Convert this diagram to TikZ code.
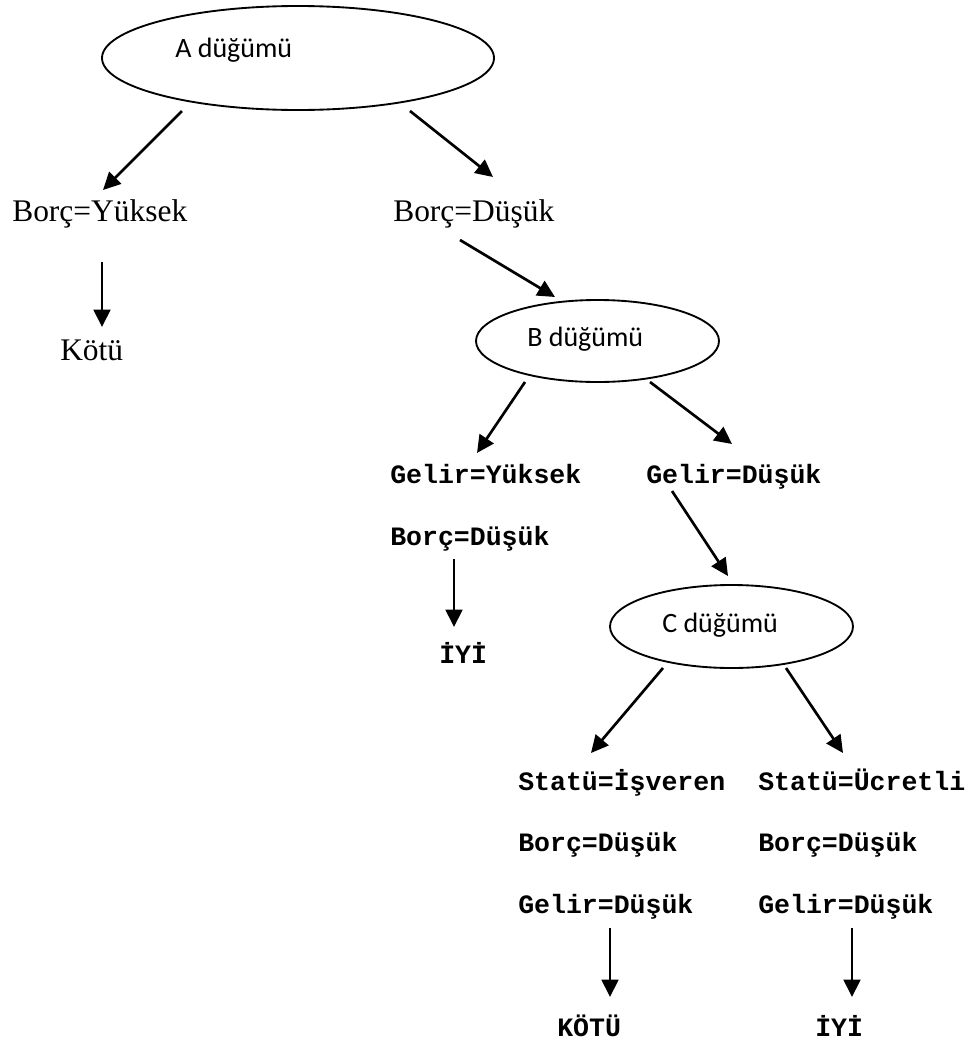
\documentclass[tikz,border=0pt]{standalone}
\usepackage{fontspec}
\setmainfont{Liberation Serif}
\newfontfamily\calfont{Carlito}
\newfontfamily\cmono{Liberation Mono}
\usetikzlibrary{shapes.geometric,arrows.meta,calc}
\newdimen\px \px=0.75pt
\begin{document}
\begin{tikzpicture}[x=0.75pt,y=-0.75pt,
  ell/.style={draw, ellipse, line width=1.4pt, inner sep=0},
  cal/.style={font=\calfont\fontsize{21}{25}\selectfont, inner sep=0, anchor=base west},
  ser/.style={font=\fontsize{23.6}{28}\selectfont, inner sep=0, anchor=base west},
  mono/.style={font=\cmono\bfseries\fontsize{19.9}{24}\selectfont, inner sep=0, anchor=base west},
  arr/.style={-{Triangle[length=13pt,width=12.5pt]}, line width=2pt}]
\useasboundingbox (0,0) rectangle (979,1046);
% nodes
\node[ell, minimum width=392\px, minimum height=104\px] (A) at (298,58) {};
\node[cal] (At) at (175,57) {A düğümü};
\node[ser] (BY) at (12,221) {Borç=Yüksek};
\node[ser] (BD) at (393,221) {Borç=Düşük};
\node[ser] (K) at (60,360) {Kötü};
\node[ell, minimum width=243\px, minimum height=82\px] (B) at (597.5,341) {};
\node[cal] (Bt) at (527,346) {B düğümü};
\node[mono] (GY) at (390,483) {Gelir=Yüksek};
\node[mono] (GD) at (646,483) {Gelir=Düşük};
\node[mono] (BD2) at (390,545) {Borç=Düşük};
\node[mono] (IYI1) at (439,663) {İYİ};
\node[ell, minimum width=243\px, minimum height=83\px] (C) at (731.5,626.5) {};
\node[cal] (Ct) at (662,632) {C düğümü};
\node[mono] (SI) at (518,790) {Statü=İşveren};
\node[mono] (SU) at (758,790) {Statü=Ücretli};
\node[mono] (BL) at (518,851) {Borç=Düşük};
\node[mono] (BR) at (758,851) {Borç=Düşük};
\node[mono] (GL) at (518,913) {Gelir=Düşük};
\node[mono] (GR) at (758,913) {Gelir=Düşük};
\node[mono] (KO) at (557,1036) {KÖTÜ};
\node[mono] (IYI2) at (815,1036) {İYİ};
% connectors
\draw[arr] ($(A)+(-116,53)$) -- ($(BY.base west)+(91,-31)$);
\draw[arr] ($(A)+(112,53)$) -- ($(BD.base west)+(100,-44)$);
\draw[arr] ($(BY.base west)+(90,41)$) -- ($(K.base west)+(42,-33)$);
\draw[arr] ($(BD.base west)+(67,19)$) -- ($(B)+(-42.5,-44)$);
\draw[arr] ($(B)+(-72.5,41)$) -- ($(GY.base west)+(87,-30)$);
\draw[arr] ($(B)+(52.5,41)$) -- ($(GD.base west)+(86,-39)$);
\draw[arr] ($(BD2.base west)+(64,14)$) -- ($(IYI1.base west)+(15,-36)$);
\draw[arr] ($(GD.base west)+(26,8)$) -- ($(C)+(-3.5,-50.5)$);
\draw[arr] ($(C)+(-68.5,41.5)$) -- ($(SI.base west)+(73,-37)$);
\draw[arr] ($(C)+(54.5,41.5)$) -- ($(SU.base west)+(85,-37)$);
\draw[arr] ($(GL.base west)+(92,15)$) -- ($(KO.base west)+(53,-39)$);
\draw[arr] ($(GR.base west)+(94,15)$) -- ($(IYI2.base west)+(37,-39)$);
\end{tikzpicture}
\end{document}
